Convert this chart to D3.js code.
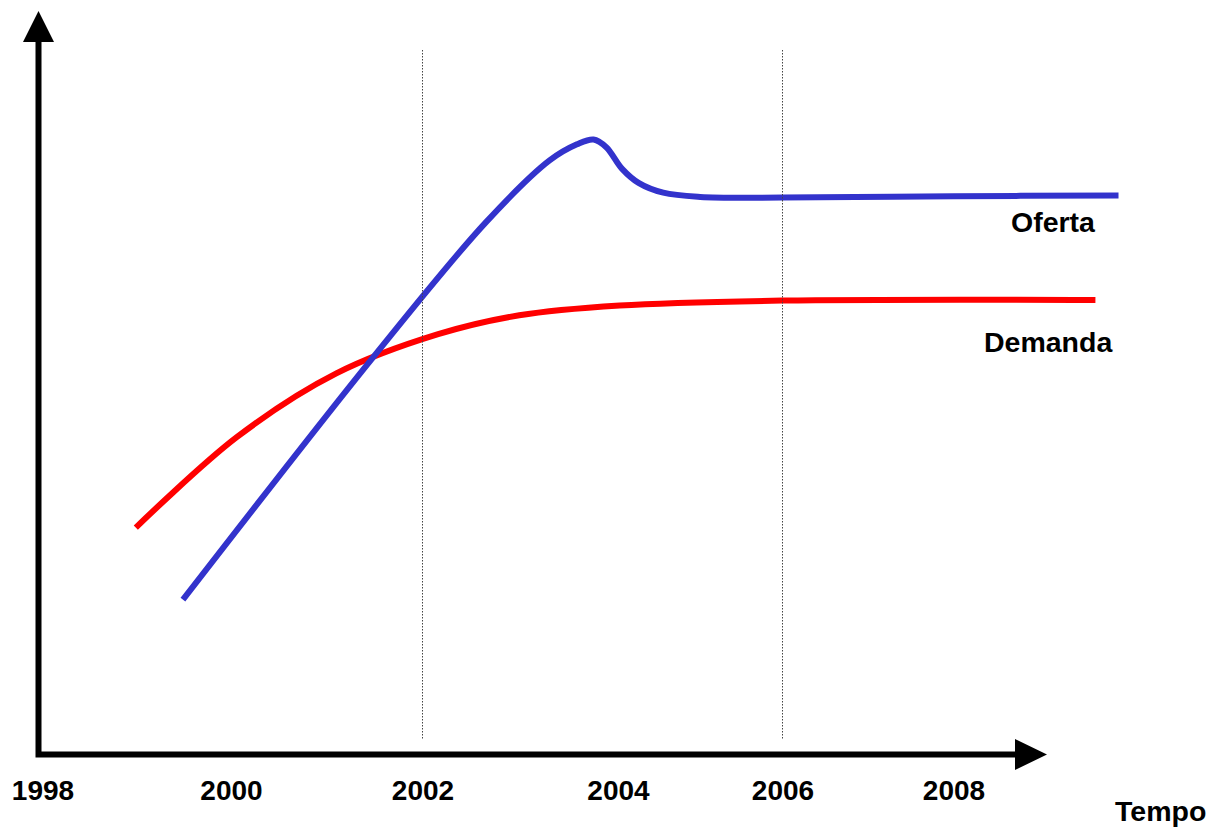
<!DOCTYPE html>
<html lang="pt">
<head>
<meta charset="utf-8">
<title>Oferta e Demanda</title>
<script src="https://cdn.jsdelivr.net/npm/d3@7"></script>
<style>
  html, body { margin: 0; padding: 0; background: #fff; }
  svg { display: block; font-family: "Liberation Sans", Arial, sans-serif; }
</style>
</head>
<body>
<svg id="chart" width="1214" height="829"></svg>
<script>
// Years shown under the time axis
const tickYears = [1998, 2000, 2002, 2004, 2006, 2008];
// Years marked with a dotted vertical guide
const guideYears = [2002, 2006];

// Supply (Oferta): year and level
const ofertaYear  = [1999.49, 2001.49, 2002.65, 2003.30, 2003.58, 2003.75, 2003.88, 2004.05, 2004.25, 2004.55, 2005.0, 2006.0, 2008.0, 2009.93];
const ofertaValue = [22.1, 56.8, 76.0, 84.8, 87.1, 87.8, 86.7, 83.6, 81.6, 80.2, 79.6, 79.5, 79.7, 79.8];

// Demand (Demanda): year and level
const demandaYear  = [1998.99, 2000.06, 2001.10, 2002.16, 2002.99, 2004.02, 2006.0, 2009.66];
const demandaValue = [32.4, 45.3, 54.4, 60.0, 62.7, 64.1, 64.8, 64.9];

// Layout
const axisX = 38.5, axisY = 754.5;
const tickX = [42.5, 231, 422.5, 618, 782.5, 953.5];   // label centres for tickYears
const yTop = 54;

const svg = d3.select("#chart");

const x = d3.scaleLinear().domain(tickYears).range(tickX);
const y = d3.scaleLinear().domain([0, 100]).range([axisY, yTop]);

const line = d3.line()
  .x(d => x(d[0]))
  .y(d => y(d[1]))
  .curve(d3.curveCatmullRom.alpha(0.5));

const oferta = d3.zip(ofertaYear, ofertaValue);
const demanda = d3.zip(demandaYear, demandaValue);

// Series curves
svg.append("path")
  .datum(demanda)
  .attr("d", line)
  .attr("fill", "none")
  .attr("stroke", "#ff0000")
  .attr("stroke-width", 6)
  .attr("stroke-linecap", "butt");

svg.append("path")
  .datum(oferta)
  .attr("d", line)
  .attr("fill", "none")
  .attr("stroke", "#3333cc")
  .attr("stroke-width", 6)
  .attr("stroke-linecap", "butt");

// Dotted vertical guides (drawn above the curves)
svg.selectAll("line.guide")
  .data(guideYears)
  .join("line")
  .attr("class", "guide")
  .attr("x1", d => x(d)).attr("x2", d => x(d))
  .attr("y1", 50).attr("y2", 739)
  .attr("stroke", "#444")
  .attr("stroke-width", 1)
  .attr("stroke-dasharray", "1.5,1.5");

// Axes with arrowheads
const axes = svg.append("g");
axes.append("path")
  .attr("d", `M${axisX},40 V${axisY} H1017`)
  .attr("fill", "none")
  .attr("stroke", "#000")
  .attr("stroke-width", 6)
  .attr("stroke-linejoin", "miter");
axes.append("path")
  .attr("d", `M${axisX},11 L${axisX + 15.5},42 L${axisX - 15.5},42 Z`)
  .attr("fill", "#000");
axes.append("path")
  .attr("d", `M1047,${axisY} L1015,${axisY - 15.5} L1015,${axisY + 15.5} Z`)
  .attr("fill", "#000");

// Year labels via a bottom axis without ticks or domain line
const xAxis = d3.axisBottom(x)
  .tickValues(tickYears)
  .tickFormat(d3.format("d"))
  .tickSize(0)
  .tickPadding(0);

const gx = svg.append("g")
  .attr("transform", `translate(0,780)`)
  .call(xAxis);
gx.select(".domain").remove();
gx.selectAll("text")
  .attr("dy", "0.71em")
  .attr("font-family", "'Liberation Sans', Arial, sans-serif")
  .attr("font-size", 28)
  .attr("font-weight", "bold")
  .attr("fill", "#000");

// Axis title and series labels
svg.append("text")
  .attr("x", 1115).attr("y", 821)
  .attr("font-size", 28.5).attr("font-weight", "bold")
  .text("Tempo");

svg.append("text")
  .attr("x", 1011).attr("y", 232)
  .attr("font-size", 28.5).attr("font-weight", "bold")
  .text("Oferta");

svg.append("text")
  .attr("x", 984).attr("y", 352)
  .attr("font-size", 28.5).attr("font-weight", "bold")
  .text("Demanda");
</script>
</body>
</html>
